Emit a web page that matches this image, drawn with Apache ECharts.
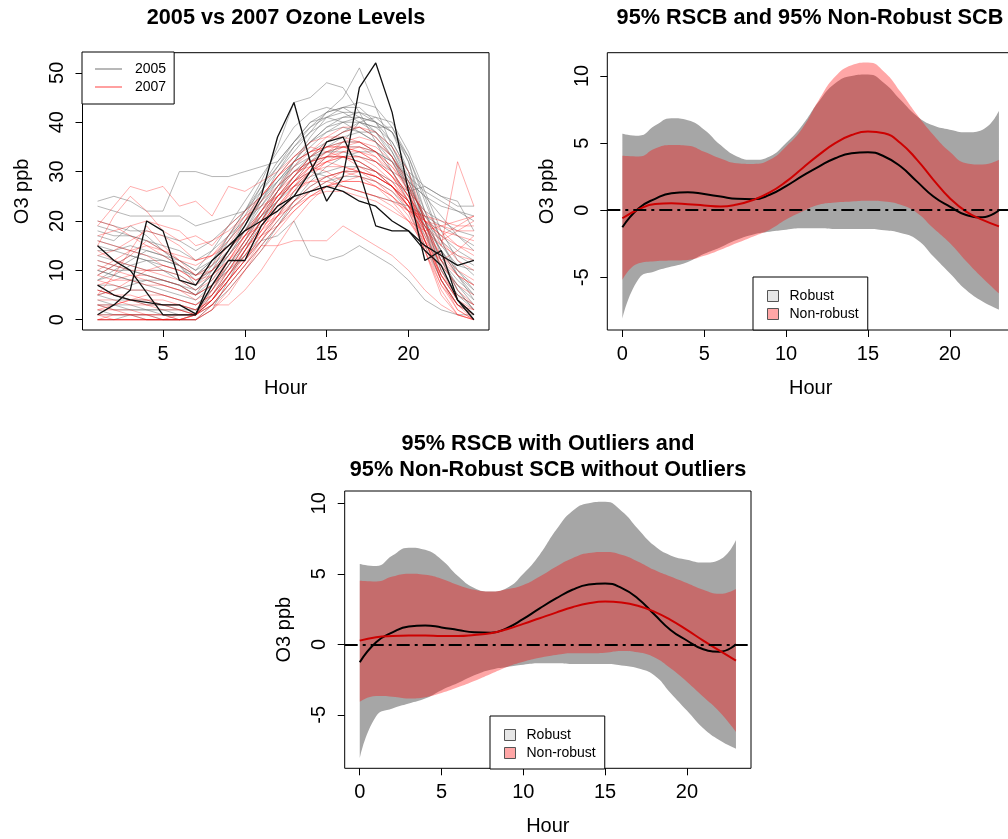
<!DOCTYPE html>
<html>
<head>
<meta charset="utf-8">
<script src="https://cdn.jsdelivr.net/npm/echarts@6.0.0/dist/echarts.min.js"></script>
<style>
  html, body { margin: 0; padding: 0; background: #ffffff; }
  #chart { width: 1008px; height: 839px; }
</style>
</head>
<body>
<div id="chart"></div>
<script>
// ---------------- data ----------------
// Hour of day for the raw daily ozone curves
const dayHours = [1,2,3,4,5,6,7,8,9,10,11,12,13,14,15,16,17,18,19,20,21,22,23,24];

// 2005 daily ozone curves (ppb)
const ozone2005 = [
  [24,25,24,22,22,30,30,29,29,30,31,32,36,40,41,40,38,36,33,28,25,23,22,20],
  [23,22,21,21,21,21,19,20,21,22,26,30,34,38,42,43,43,40,36,30,27,25,23,23],
  [14,14,15,14,13,12,10,14,19,24,29,34,39,42,43,42,40,38,34,28,20,14,10,7],
  [8,10,12,14,13,11,7,11,17,22,28,35,44,45,48,47,42,36,30,24,18,12,8,5],
  [10,9,8,8,7,6,5,10,16,21,27,32,36,39,42,45,51,43,35,28,20,14,9,6],
  [5,4,4,3,3,2,2,6,11,16,21,26,31,35,38,40,41,40,38,33,24,16,10,6],
  [3,2,2,2,1,1,1,5,10,15,20,24,28,32,35,37,38,38,35,29,20,12,7,3],
  [10,9,8,7,6,5,4,7,10,13,16,17,20,13,12,13,15,13,11,8,4,2,1,1],
  [15,14,13,12,11,10,9,12,16,20,24,28,32,34,36,38,40,41,40,34,26,18,12,9],
  [6,5,4,4,3,3,2,5,9,13,17,21,26,30,33,36,40,39,39,33,25,16,9,4],
  [2,1,1,1,0,0,1,4,9,14,19,24,29,33,36,38,39,37,33,26,16,8,3,1],
  [18,17,17,16,15,14,12,14,17,20,23,27,30,33,35,36,36,34,30,25,20,16,13,11],
  [11,10,10,9,8,7,6,9,13,18,23,28,32,36,39,40,40,39,36,30,22,15,11,10],
  [7,7,6,6,5,4,3,6,11,16,22,27,32,36,39,41,42,40,34,27,19,12,6,2],
  [4,3,3,2,2,2,1,4,8,12,16,20,24,27,29,30,30,29,27,24,19,14,9,5],
  [13,12,11,10,10,9,7,10,14,19,24,29,33,36,38,39,38,36,32,26,22,20,18,17],
  [20,19,18,18,17,16,14,16,19,22,25,28,31,33,34,34,33,32,30,28,25,21,17,14],
  [1,1,1,0,0,0,0,3,7,11,15,19,23,26,28,29,29,28,26,22,15,8,3,1],
  [8,9,11,12,12,11,9,12,17,22,27,31,35,38,40,41,41,40,38,32,20,10,5,2],
  [16,15,14,13,12,11,9,11,14,18,22,26,30,32,34,35,35,34,32,29,26,24,22,21],
  [3,3,2,2,2,1,1,3,6,10,14,19,24,28,31,33,34,34,32,27,18,10,5,3],
  [12,11,10,9,8,7,5,8,13,18,24,30,35,39,41,42,42,41,38,30,18,9,4,1],
  [5,6,7,8,8,7,5,7,11,15,20,25,29,32,33,33,32,30,27,23,17,11,7,4],
  [19,18,17,16,14,12,10,12,15,18,21,24,27,29,30,31,31,30,28,26,27,25,24,18],
  [9,11,13,12,10,8,6,9,14,20,26,31,36,40,42,43,41,38,33,27,21,17,14,12],
  [17,16,19,17,14,11,8,10,13,17,21,24,28,30,29,27,26,25,24,23,21,19,17,15],
  [0,0,1,1,1,0,0,2,8,14,20,26,32,37,41,43,44,43,39,32,22,13,6,2]
];

// 2005 days flagged as outlying curves
const ozone2005Outliers = [
  [15,12,10,5.5,1,1,1,9,14,19,25,37,44,32,24,29,47,52,42,26,12,14,4,0],
  [7,5,4,3.5,3,3,1.2,7,12,12,19,23,25,30,36,37,30,19,18,18,15,13,11,12],
  [1,3,6,20,18,8,7,12,15,18,20,22,25,26,27,26,24,23,20,18,14,11,4,1]
];

// 2007 daily ozone curves (ppb)
const ozone2007 = [
  [0,0,0,0,0,0,1,5,10,15,20,25,29,33,36,38,39,38,35,30,20,10,4,1],
  [1,0,0,0,0,1,1,6,12,17,22,27,31,34,37,39,39,37,33,27,18,8,2,0],
  [19,23,27,26,27,23,24,21,27,26,28,30,33,35,34,33,31,29,27,24,20,17,19,21],
  [15,21,25,22,18,16,17,15,19,22,25,29,32,34,35,35,34,32,29,26,22,18,15,13],
  [9,11,13,16,14,12,11,13,17,21,25,29,33,36,37,37,36,34,31,27,21,16,12,10],
  [3,2,2,1,1,1,1,4,8,13,18,23,27,31,33,34,34,33,30,25,16,8,3,1],
  [12,11,10,10,9,8,6,8,12,17,22,26,30,32,33,33,32,30,27,23,19,15,32,23],
  [6,5,5,4,4,3,2,4,8,12,16,20,24,27,29,30,30,29,27,23,16,9,5,3],
  [16,15,14,13,11,10,8,9,12,15,17,19,22,25,27,28,28,27,25,22,18,15,13,12],
  [0,0,0,0,0,0,0,2,5,10,15,19,23,26,28,30,31,30,28,24,16,8,3,0],
  [2,2,1,1,1,0,1,3,7,11,15,15,16,16,16,19,17,15,13,10,6,3,1,0],
  [10,12,14,15,13,11,9,11,15,20,25,29,32,34,35,35,34,32,29,25,20,17,15,14],
  [4,4,3,3,2,2,1,3,7,11,16,21,26,30,33,35,36,35,32,26,17,9,4,1],
  [7,8,9,9,8,7,5,7,11,16,21,26,29,32,33,33,32,30,27,23,19,16,18,20],
  [13,14,16,18,17,15,12,13,16,20,24,27,30,31,32,31,30,28,25,22,20,19,18,18],
  [1,1,1,1,0,0,0,2,6,10,14,18,22,25,27,28,28,27,25,21,14,7,2,0],
  [5,6,8,10,11,10,8,10,14,18,22,25,28,30,31,31,30,29,27,24,18,13,10,8],
  [8,7,6,6,5,4,3,5,9,13,18,23,27,30,32,34,35,34,31,26,18,11,7,5],
  [11,10,9,8,7,6,5,7,10,14,18,21,24,26,27,27,26,25,23,20,16,12,9,7],
  [0,1,1,0,0,0,0,3,3,6,10,15,20,24,27,29,30,29,27,22,14,6,1,0],
  [14,12,11,10,10,9,7,9,12,16,20,23,26,28,29,30,29,28,26,23,20,18,17,16],
  [3,3,4,5,5,4,3,5,9,14,19,24,28,31,34,36,37,36,33,28,20,12,6,3],
  [17,18,19,20,19,18,15,16,18,21,23,25,27,28,28,27,26,25,24,22,21,20,19,19],
  [6,5,4,3,3,2,1,4,9,14,19,24,28,32,34,35,35,33,29,24,15,7,3,2],
  [9,8,8,7,7,6,4,6,10,15,20,25,29,33,35,36,36,34,30,25,19,13,9,7],
  [2,3,4,4,3,3,2,4,8,12,17,22,27,30,32,33,33,32,29,24,16,9,4,2],
  [20,19,17,15,14,13,12,13,15,17,19,21,23,25,26,26,25,24,22,20,18,19,20,21],
  [0,0,0,0,0,0,1,4,8,12,17,21,25,29,32,33,33,31,28,23,14,5,1,0],
  [5,9,14,19,15,12,9,10,13,17,21,25,28,31,30,28,29,27,24,20,15,12,14,17]
];

// Hour grid for the difference curves (2005 - 2007)
const bandHours = [0,1,2,3,4,5,6,7,8,9,10,11,12,13,14,15,16,17,18,19,20,21,22,23];

// Robust estimate and 95% robust simultaneous confidence band
const robustMean  = [-1.27,0.15,0.85,1.27,1.34,1.2,1.02,0.85,0.82,1.15,1.8,2.55,3.25,3.87,4.24,4.32,4.0,3.25,2.13,1.02,0.27,-0.35,-0.52,0.0];
const robustUpper = [5.7,5.55,6.3,6.85,6.7,6.0,4.85,4.0,3.75,4.0,5.0,6.35,8.1,9.45,10.0,10.1,9.45,8.2,7.0,6.3,6.0,5.8,6.0,7.4];
const robustLower = [-8.1,-5.1,-4.55,-4.2,-3.85,-3.25,-2.75,-2.2,-1.8,-1.6,-1.45,-1.35,-1.35,-1.4,-1.4,-1.4,-1.5,-1.7,-2.2,-3.45,-4.7,-5.95,-6.8,-7.4];

// Non-robust estimate and 95% band, all days
const nonRobustMean  = [-0.6,0.07,0.47,0.52,0.45,0.35,0.27,0.42,0.77,1.32,2.13,3.13,4.12,4.99,5.6,5.86,5.73,4.99,3.75,2.26,0.89,-0.1,-0.72,-1.2];
const nonRobustUpper = [4.05,4.0,4.6,4.85,4.8,4.35,3.85,3.5,3.45,3.75,4.75,6.1,8.2,9.95,10.8,11.0,10.3,8.8,7.1,5.6,4.35,3.5,3.4,3.75];
const nonRobustLower = [-5.2,-3.95,-3.8,-3.75,-3.7,-3.4,-2.95,-2.45,-1.95,-1.45,-0.7,-0.1,0.4,0.57,0.65,0.7,0.65,0.4,-0.2,-1.35,-2.45,-3.8,-5.05,-6.2];

// Non-robust estimate and 95% band, outlying days removed
const cleanMean  = [0.26,0.5,0.59,0.62,0.62,0.59,0.59,0.66,0.78,1.07,1.45,1.85,2.25,2.63,2.91,3.03,2.96,2.73,2.32,1.73,1.02,0.26,-0.45,-1.16];
const cleanUpper = [4.5,4.45,4.8,5.0,4.93,4.65,4.2,3.86,3.74,3.9,4.2,4.8,5.5,6.1,6.47,6.54,6.35,5.88,5.28,4.8,4.34,3.86,3.58,3.93];
const cleanLower = [-4.08,-3.67,-3.72,-3.84,-3.75,-3.45,-3.05,-2.6,-2.1,-1.6,-1.23,-0.95,-0.76,-0.64,-0.64,-0.59,-0.47,-0.57,-0.92,-1.7,-2.65,-3.72,-4.79,-6.2];

// Tick values
const ozoneTicks = [0,10,20,30,40,50];
const dayHourTicks = [5,10,15,20];
const bandHourTicks = [0,5,10,15,20];
const diffTicks = [-5,0,5,10];

// ---------------- helpers ----------------
const FONT = '"Liberation Sans", Arial, Helvetica, sans-serif';
const SMOOTH = 0.5;
const pairs = (xs, ys) => xs.map((x, i) => [x, ys[i]]);

function xAxisFor(gridIndex, min, max, ticks) {
  return {
    type: 'value', gridIndex, min, max,
    axisLine: { show: false, onZero: false },
    splitLine: { show: false },
    axisTick: { show: true, inside: false, length: 7, customValues: ticks, lineStyle: { color: '#000', width: 1 } },
    axisLabel: { customValues: ticks, fontSize: 20, color: '#000', fontFamily: FONT, margin: 14 },
    name: 'Hour', nameLocation: 'middle', nameGap: 48,
    nameTextStyle: { fontSize: 20, color: '#000', fontFamily: FONT }
  };
}
function yAxisFor(gridIndex, min, max, ticks) {
  return {
    type: 'value', gridIndex, min, max,
    axisLine: { show: false, onZero: false },
    splitLine: { show: false },
    axisTick: { show: true, inside: false, length: 7, customValues: ticks, lineStyle: { color: '#000', width: 1 } },
    axisLabel: { customValues: ticks, fontSize: 20, color: '#000', fontFamily: FONT, rotate: 90, margin: 15 },
    name: 'O3 ppb', nameLocation: 'middle', nameRotate: 90, nameGap: 50,
    nameTextStyle: { fontSize: 20, color: '#000', fontFamily: FONT }
  };
}
function curve(name, axis, xs, ys, color, width, smooth) {
  return {
    type: 'line', name, xAxisIndex: axis, yAxisIndex: axis,
    data: pairs(xs, ys), symbol: 'none', showSymbol: false, smooth: smooth || false,
    lineStyle: { color, width }, itemStyle: { color }, silent: true
  };
}
// A band drawn as an invisible lower line plus a stacked area of the band width.
// Each point is stored as [value, hour] so that the stacked dimension is the value.
function band(name, axis, xs, lower, upper, color, stackId) {
  const widths = upper.map((u, i) => u - lower[i]);
  const common = {
    type: 'line', xAxisIndex: axis, yAxisIndex: axis,
    encode: { x: 1, y: 0 }, stack: stackId, stackStrategy: 'all',
    symbol: 'none', showSymbol: false, smooth: SMOOTH, silent: true,
    lineStyle: { width: 0, opacity: 0 }
  };
  return [
    Object.assign({}, common, { name: name + ' lower', data: xs.map((x, i) => [lower[i], x]) }),
    Object.assign({}, common, {
      name, data: xs.map((x, i) => [widths[i], x]),
      itemStyle: { color }, areaStyle: { color, opacity: 1 }
    })
  ];
}
function zeroLine(axis) {
  return {
    type: 'line', name: 'zero', xAxisIndex: axis, yAxisIndex: axis, data: [],
    silent: true,
    markLine: {
      silent: true, symbol: 'none', label: { show: false },
      lineStyle: { color: '#000', width: 2, type: [13, 5, 3, 5] },
      data: [{ yAxis: 0 }]
    }
  };
}

const GRAY_BAND = '#a6a6a6';
const RED_BAND = 'rgba(255,0,0,0.35)';
const RED_LINE = '#cd0000';

// ---------------- series ----------------
const series = [];
// Panel 1: raw curves
ozone2005.forEach(d => series.push(curve('2005', 0, dayHours, d, 'rgba(110,110,110,0.5)', 1)));
ozone2007.forEach(d => series.push(curve('2007', 0, dayHours, d, 'rgba(255,0,0,0.32)', 1)));
ozone2005Outliers.forEach(d => series.push(curve('2005 outlier', 0, dayHours, d, '#111111', 1.3)));

// Panel 2: robust vs non-robust bands
series.push(...band('Robust', 1, bandHours, robustLower, robustUpper, GRAY_BAND, 'rb2'));
series.push(curve('Robust mean', 1, bandHours, robustMean, '#000000', 2, SMOOTH));
series.push(...band('Non-robust', 1, bandHours, nonRobustLower, nonRobustUpper, RED_BAND, 'nb2'));
series.push(curve('Non-robust mean', 1, bandHours, nonRobustMean, RED_LINE, 2, SMOOTH));
series.push(zeroLine(1));

// Panel 3: robust band with outliers vs non-robust band without them
series.push(...band('Robust', 2, bandHours, robustLower, robustUpper, GRAY_BAND, 'rb3'));
series.push(curve('Robust mean', 2, bandHours, robustMean, '#000000', 2, SMOOTH));
series.push(...band('Non-robust', 2, bandHours, cleanLower, cleanUpper, RED_BAND, 'nb3'));
series.push(curve('Non-robust mean', 2, bandHours, cleanMean, RED_LINE, 2, SMOOTH));
series.push(zeroLine(2));

const titleStyle = { fontSize: 21.7, fontWeight: 'bold', color: '#000', fontFamily: FONT, lineHeight: 26 };
const legendText = { fontSize: 14, color: '#000', fontFamily: FONT };
const bandLegend = (left, top) => ({
  left, top, orient: 'vertical', selectedMode: false,
  backgroundColor: '#fff', borderColor: '#000', borderWidth: 1, borderRadius: 0,
  padding: [12, 9, 9, 14], itemWidth: 11, itemHeight: 11, itemGap: 4,
  textStyle: Object.assign({ padding: [0, 0, 0, 6] }, legendText),
  data: [
    { name: 'Robust', icon: 'rect', itemStyle: { color: '#e6e6e6', borderColor: '#555', borderWidth: 1 } },
    { name: 'Non-robust', icon: 'rect', itemStyle: { color: '#ffa6a6', borderColor: '#555', borderWidth: 1 } }
  ]
});

const option = {
  animation: false,
  backgroundColor: '#ffffff',
  title: [
    { text: '2005 vs 2007 Ozone Levels', left: 286, top: 5, textAlign: 'center', padding: 0, textStyle: titleStyle },
    { text: '95% RSCB and 95% Non-Robust SCB', left: 810, top: 5, textAlign: 'center', padding: 0, textStyle: titleStyle },
    { text: '95% RSCB with Outliers and\n95% Non-Robust SCB without Outliers', left: 548, top: 431, textAlign: 'center', padding: 0, textStyle: titleStyle }
  ],
  legend: [
    {
      left: 82, top: 52, orient: 'vertical', selectedMode: false,
      backgroundColor: '#fff', borderColor: '#000', borderWidth: 1, borderRadius: 0,
      padding: [10, 8, 10, 13], itemWidth: 27, itemHeight: 1, itemGap: 4,
      textStyle: Object.assign({ padding: [0, 0, 0, 8] }, legendText),
      data: [
        { name: '2005', icon: 'rect', itemStyle: { color: '#707070' } },
        { name: '2007', icon: 'rect', itemStyle: { color: '#ff4040' } }
      ]
    },
    bandLegend(753, 277),
    bandLegend(490, 716)
  ],
  grid: [
    { left: 82.5, top: 52.7, width: 406.5, height: 277.3, show: true, borderColor: '#000', borderWidth: 1, backgroundColor: 'transparent', containLabel: false, outerBoundsMode: 'none' },
    { left: 607.3, top: 52.7, width: 406.7, height: 277.3, show: true, borderColor: '#000', borderWidth: 1, backgroundColor: 'transparent', containLabel: false, outerBoundsMode: 'none' },
    { left: 344.7, top: 491, width: 406.3, height: 277.3, show: true, borderColor: '#000', borderWidth: 1, backgroundColor: 'transparent', containLabel: false, outerBoundsMode: 'none' }
  ],
  xAxis: [
    xAxisFor(0, 0.08, 24.92, dayHourTicks),
    xAxisFor(1, -0.92, 23.92, bandHourTicks),
    xAxisFor(2, -0.92, 23.92, bandHourTicks)
  ],
  yAxis: [
    yAxisFor(0, -2.08, 54.08, ozoneTicks),
    yAxisFor(1, -8.92, 11.73, diffTicks),
    yAxisFor(2, -8.79, 10.87, diffTicks)
  ],
  series
};

const chart = echarts.init(document.getElementById('chart'), null, { renderer: 'canvas' });
chart.setOption(option);
</script>
</body>
</html>
